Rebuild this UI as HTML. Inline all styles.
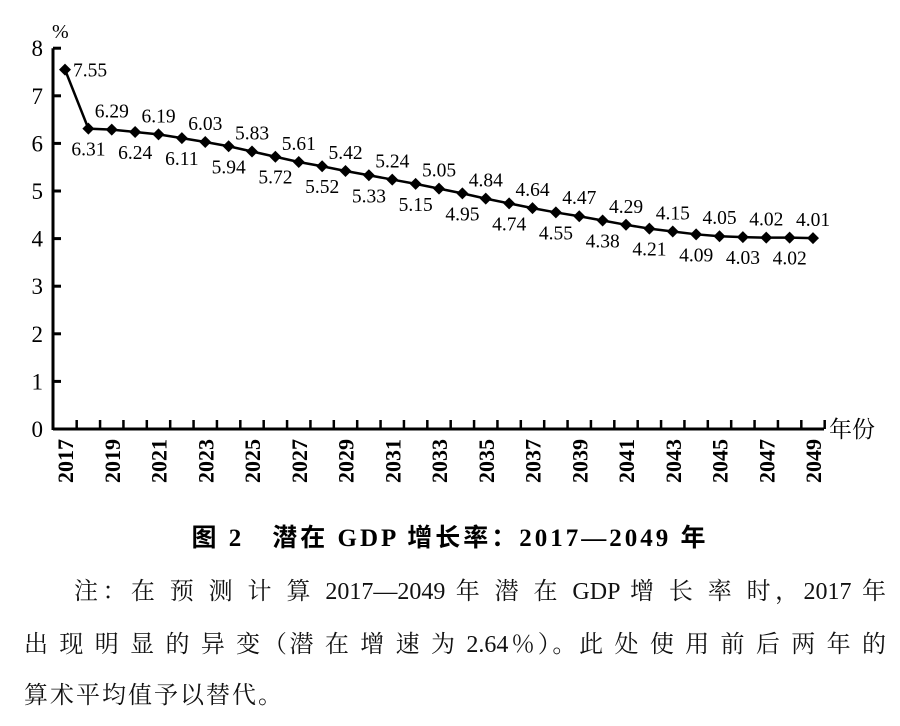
<!DOCTYPE html>
<html><head><meta charset="utf-8"><style>
body{margin:0;background:#fff;width:900px;height:726px;overflow:hidden;font-family:"Liberation Serif","Noto Serif CJK SC",serif;}
svg{position:absolute;left:0;top:0}
.cap{position:absolute;left:0;width:900px;text-align:center;top:518px;font-size:25px;letter-spacing:3px;font-weight:bold;font-family:"Liberation Serif","Noto Sans CJK SC",sans-serif;}
.nl{position:absolute;left:24px;width:862px;font-size:24px;line-height:30px;color:#111;text-align:justify;text-align-last:justify;white-space:nowrap;}
</style></head><body>
<svg width="900" height="510" id="chart"></svg>
<div class="cap">图 2　潜在 GDP 增长率：2017—2049 年</div>
<div class="nl" style="top:577px;left:74px;width:812px">注：在 预 测 计 算 2017—2049 年 潜 在 GDP 增 长 率 时，2017 年</div>
<div class="nl" style="top:630px">出 现 明 显 的 异 变（潜 在 增 速 为 2.64％）。此 处 使 用 前 后 两 年 的</div>
<div class="nl" style="top:681px;text-align-last:left;letter-spacing:2px">算术平均值予以替代。</div>
<script>
const years=[2017,2018,2019,2020,2021,2022,2023,2024,2025,2026,2027,2028,2029,2030,2031,2032,2033,2034,2035,2036,2037,2038,2039,2040,2041,2042,2043,2044,2045,2046,2047,2048,2049];
const values=[7.55,6.31,6.29,6.24,6.19,6.11,6.03,5.94,5.83,5.72,5.61,5.52,5.42,5.33,5.24,5.15,5.05,4.95,4.84,4.74,4.64,4.55,4.47,4.38,4.29,4.21,4.15,4.09,4.05,4.03,4.02,4.02,4.01];
const yTicks=[0,1,2,3,4,5,6,7,8];
const NS="http://www.w3.org/2000/svg";
const svg=document.getElementById('chart');
const x0=65,dx=23.375,axL=53,axR=824,yBase=429,yU=47.6;
const X=i=>x0+i*dx, Y=v=>yBase-v*yU;
function mk(t,a,txt){const e=document.createElementNS(NS,t);for(const k in a)e.setAttribute(k,a[k]);if(txt!=null)e.textContent=txt;svg.appendChild(e);return e;}
let e;
e=mk('line',{x1:axL,y1:Y(8),x2:axL,y2:yBase+1,stroke:'#000','stroke-width':3});


e=mk('line',{x1:axL,y1:yBase,x2:axR,y2:yBase,stroke:'#000','stroke-width':3});


yTicks.forEach(v=>{
 e=mk('line',{x1:axL,y1:Y(v),x2:axL+8,y2:Y(v),stroke:'#000','stroke-width':3});
 
 
 e=mk('text',{x:axL-10,y:Y(v)+8,'text-anchor':'end','font-size':23},String(v));
 
 
});
e=mk('text',{x:52,y:38,'font-size':20},'%');


for(let i=0;i<years.length;i++){
 const tx=X(i)+dx/2;
 e=mk('line',{x1:tx,y1:yBase,x2:tx,y2:yBase-9,stroke:'#000','stroke-width':2.5});
 
 
 if(i%2===0){
  e=mk('text',{x:0,y:0,'font-size':22,'font-weight':'bold','text-anchor':'end',transform:`translate(${X(i)+8},${yBase+10}) rotate(-90)`},String(years[i]));
  
  
 }
}
e=mk('text',{x:829,y:437,'font-size':23,'font-family':'"Noto Serif CJK SC",serif'},'年份');


e=mk('polyline',{points:values.map((v,i)=>X(i)+','+Y(v)).join(' '),fill:'none',stroke:'#000','stroke-width':2.5});


values.forEach((v,i)=>{
 const x=X(i),y=Y(v);
 e=mk('polygon',{points:`${x},${y-6} ${x+6},${y} ${x},${y+6} ${x-6},${y}`,fill:'#000'});
 
 
 let lx,ly,anc='middle';
 if(i===0){lx=x+8;ly=y+7;anc='start';}
 else if(i%2===0){lx=x;ly=y-12;}
 else{lx=x;ly=y+27;}
 e=mk('text',{x:lx,y:ly,'font-size':19.5,'text-anchor':anc},v.toFixed(2));
 
 
});
</script>
</body></html>
